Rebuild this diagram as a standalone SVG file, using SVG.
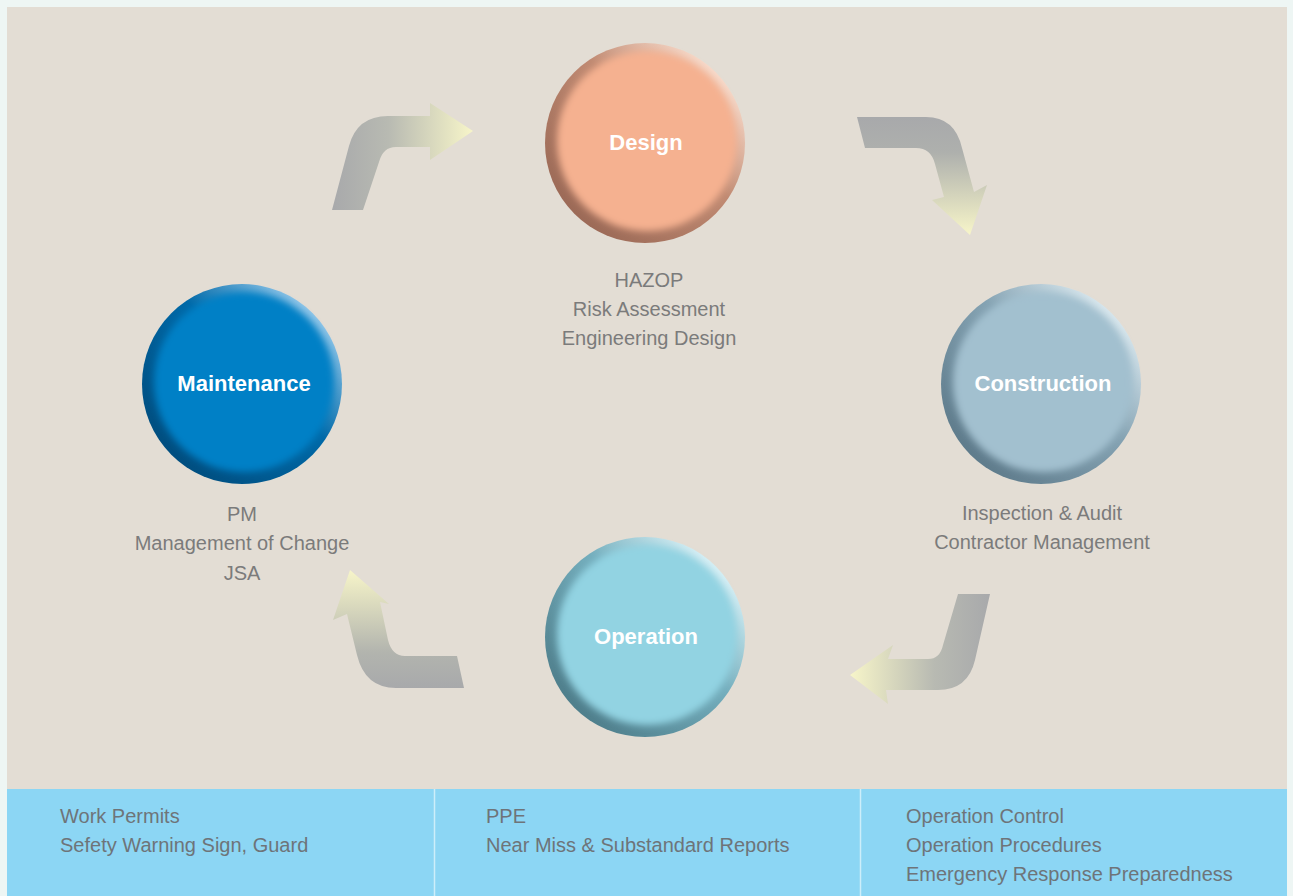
<svg xmlns="http://www.w3.org/2000/svg" width="1293" height="896" viewBox="0 0 1293 896">
<defs>
<style>
.lbl{font-family:"Liberation Sans",Arial,sans-serif;font-size:20px;fill:#7b7b7b;text-anchor:middle}
.ttl{font-family:"Liberation Sans",Arial,sans-serif;font-size:22px;font-weight:bold;fill:#ffffff;text-anchor:middle}
.bot{font-family:"Liberation Sans",Arial,sans-serif;font-size:20px;fill:#6e7479}
</style>
<linearGradient id="gR" x1="0" y1="0" x2="1" y2="0"><stop offset="0" stop-color="#a8a9ab"/><stop offset="0.4" stop-color="#b8bab2"/><stop offset="1" stop-color="#f7f5c9"/></linearGradient>
<linearGradient id="gL" x1="1" y1="0" x2="0" y2="0"><stop offset="0" stop-color="#a8a9ab"/><stop offset="0.4" stop-color="#b8bab2"/><stop offset="1" stop-color="#f7f5c9"/></linearGradient>
<linearGradient id="gD" x1="0" y1="0" x2="0" y2="1"><stop offset="0" stop-color="#a8a9ab"/><stop offset="0.3" stop-color="#aeb0ad"/><stop offset="1" stop-color="#f7f5c9"/></linearGradient>
<linearGradient id="gU" x1="0" y1="1" x2="0" y2="0"><stop offset="0" stop-color="#a8a9ab"/><stop offset="0.3" stop-color="#b2b4ae"/><stop offset="1" stop-color="#f7f5c9"/></linearGradient>
<linearGradient id="rimD" x1="0.15" y1="0.85" x2="0.85" y2="0.15"><stop offset="0" stop-color="#9c6a57"/><stop offset="0.6" stop-color="#c08a72"/><stop offset="1" stop-color="#f6d8c8"/></linearGradient>
<linearGradient id="rimC" x1="0.15" y1="0.85" x2="0.85" y2="0.15"><stop offset="0" stop-color="#5f7c8c"/><stop offset="0.6" stop-color="#85a3b3"/><stop offset="1" stop-color="#d6e5ec"/></linearGradient>
<linearGradient id="rimO" x1="0.15" y1="0.85" x2="0.85" y2="0.15"><stop offset="0" stop-color="#4f7f8c"/><stop offset="0.6" stop-color="#74aebd"/><stop offset="1" stop-color="#d4eef4"/></linearGradient>
<linearGradient id="rimM" x1="0.15" y1="0.85" x2="0.85" y2="0.15"><stop offset="0" stop-color="#004e80"/><stop offset="0.6" stop-color="#0069a8"/><stop offset="1" stop-color="#8cc4e8"/></linearGradient>
<filter id="blur" x="-20%" y="-20%" width="140%" height="140%"><feGaussianBlur stdDeviation="3.5"/></filter>
</defs>
<rect x="0" y="0" width="1293" height="896" fill="#eef6f4"/>
<rect x="7" y="7" width="1280" height="783" fill="#e3ddd4"/>
<rect x="7" y="789" width="1280" height="107" fill="#8cd6f4"/>
<line x1="434.5" y1="789" x2="434.5" y2="896" stroke="#cdeefa" stroke-width="1.5"/>
<line x1="860.5" y1="789" x2="860.5" y2="896" stroke="#cdeefa" stroke-width="1.5"/>

<g id="connectors">
<path d="M332,210 L349,146 Q357,116 388,116 L430,116 L430,103 L473,131 L430,160 L430,147 L396,147 Q383,147 379,162 L363,210 Z" fill="url(#gR)"/>
<path d="M857,117 L926,117 Q955,117 962,148 L974,192 L987,185 L970,235 L932,200 L944,197 L935,164 Q931,148 916,148 L865,148 Z" fill="url(#gD)"/>
<path d="M958,594 L990,594 L975,660 Q968,690 938,690 L886,690 L888,704 L850,675 L893,645 L888,659 L928,659 Q940,659 943,645 Z" fill="url(#gL)"/>
<path d="M464,688 L457,656 L405,656 Q392,656 388,640 L380,602 L389,604 L350,570 L333,620 L347,614 L357,655 Q365,688 396,688 Z" fill="url(#gU)"/>
</g>

<g id="design">
<circle cx="645" cy="143" r="100" fill="url(#rimD)"/>
<circle cx="647" cy="141" r="90" fill="#f5b190" filter="url(#blur)"/>
<text class="ttl" x="646" y="150">Design</text>
<text class="lbl" x="649" y="287">HAZOP</text>
<text class="lbl" x="649" y="316">Risk Assessment</text>
<text class="lbl" x="649" y="345">Engineering Design</text>
</g>

<g id="construction">
<circle cx="1041" cy="384" r="100" fill="url(#rimC)"/>
<circle cx="1043" cy="382" r="90" fill="#a2c0cf" filter="url(#blur)"/>
<text class="ttl" x="1043" y="391">Construction</text>
<text class="lbl" x="1042" y="520">Inspection &amp; Audit</text>
<text class="lbl" x="1042" y="549">Contractor Management</text>
</g>

<g id="operation">
<circle cx="645" cy="637" r="100" fill="url(#rimO)"/>
<circle cx="647" cy="635" r="90" fill="#92d3e2" filter="url(#blur)"/>
<text class="ttl" x="646" y="644">Operation</text>
</g>

<g id="maintenance">
<circle cx="242" cy="384" r="100" fill="url(#rimM)"/>
<circle cx="244" cy="382" r="90" fill="#0080c6" filter="url(#blur)"/>
<text class="ttl" x="244" y="391">Maintenance</text>
<text class="lbl" x="242" y="521">PM</text>
<text class="lbl" x="242" y="550">Management of Change</text>
<text class="lbl" x="242" y="580">JSA</text>
</g>

<g id="bottom">
<text class="bot" x="60" y="823">Work Permits</text>
<text class="bot" x="60" y="852">Sefety Warning Sign, Guard</text>
<text class="bot" x="486" y="823">PPE</text>
<text class="bot" x="486" y="852">Near Miss &amp; Substandard Reports</text>
<text class="bot" x="906" y="823">Operation Control</text>
<text class="bot" x="906" y="852">Operation Procedures</text>
<text class="bot" x="906" y="881">Emergency Response Preparedness</text>
</g>
</svg>
